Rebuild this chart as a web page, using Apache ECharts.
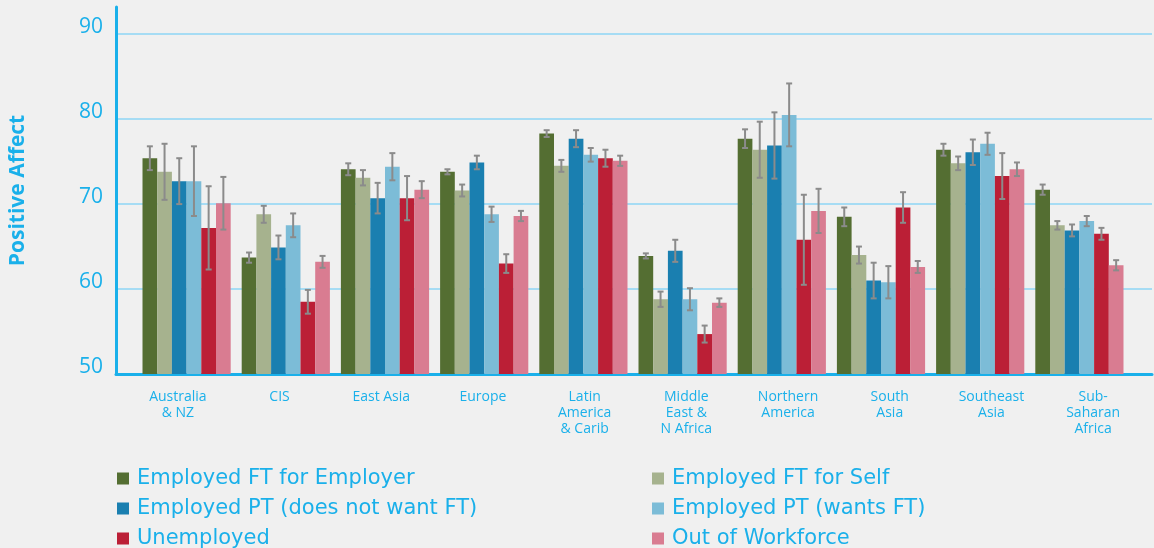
<!DOCTYPE html>
<html>
<head>
<meta charset="utf-8">
<script src="https://cdn.jsdelivr.net/npm/echarts@6/dist/echarts.min.js"></script>
<style>
  html, body { margin: 0; padding: 0; background: #f0f0f0; }
  #chart { width: 1154px; height: 548px; }
</style>
</head>
<body>
<div id="chart"></div>
<script>
// region categories (x axis)
const regions = ['Australia\n& NZ', 'CIS', 'East Asia', 'Europe', 'Latin\nAmerica\n& Carib',
  'Middle\nEast &\nN Africa', 'Northern\nAmerica', 'South\nAsia', 'Southeast\nAsia', 'Sub-\nSaharan\nAfrica']

const seriesNames = ['Employed FT for Employer', 'Employed FT for Self', 'Employed PT (does not want FT)',
  'Employed PT (wants FT)', 'Unemployed', 'Out of Workforce']

// mean positive affect
const ftEmployer = [75.4, 63.7, 74.1, 73.8, 78.3, 63.9, 77.7, 68.5, 76.4, 71.7]
const ftSelf = [73.8, 68.8, 73.1, 71.6, 74.5, 58.8, 76.4, 64.0, 74.8, 67.5]
const ptNotWant = [72.7, 64.9, 70.7, 74.9, 77.7, 64.5, 76.9, 61.0, 76.1, 66.9]
const ptWants = [72.7, 67.5, 74.4, 68.8, 75.8, 58.8, 80.5, 60.8, 77.1, 68.0]
const unemployed = [67.2, 58.5, 70.7, 63.0, 75.4, 54.7, 65.8, 69.6, 73.3, 66.5]
const outOfWork = [70.1, 63.2, 71.7, 68.6, 75.1, 58.4, 69.2, 62.6, 74.1, 62.8]

// error bar half widths
const ftEmployerErr = [1.4, 0.6, 0.7, 0.3, 0.4, 0.3, 1.1, 1.1, 0.7, 0.6]
const ftSelfErr = [3.3, 1.0, 0.9, 0.7, 0.7, 0.9, 3.3, 1.0, 0.8, 0.5]
const ptNotWantErr = [2.7, 1.4, 1.8, 0.8, 1.0, 1.3, 3.9, 2.1, 1.5, 0.7]
const ptWantsErr = [4.1, 1.4, 1.6, 0.9, 0.8, 1.3, 3.7, 1.9, 1.3, 0.6]
const unemployedErr = [4.9, 1.4, 2.6, 1.1, 1.0, 1.0, 5.3, 1.8, 2.7, 0.7]
const outOfWorkErr = [3.1, 0.7, 1.0, 0.6, 0.6, 0.5, 2.6, 0.7, 0.8, 0.6]

const yTicks = [50, 60, 70, 80, 90]

const values = [ftEmployer, ftSelf, ptNotWant, ptWants, unemployed, outOfWork]
const errors = [ftEmployerErr, ftSelfErr, ptNotWantErr, ptWantsErr, unemployedErr, outOfWorkErr]
const colors = ['#546e32', '#a6b28e', '#1a7fb0', '#7cbcd7', '#bb1f36', '#d97c91']

const cyan = '#1ab0ea'
const font = '"Open Sans", sans-serif'
const wideFont = '"DejaVu Sans", sans-serif'
const barW = 14.7
const yMax = 93.2

// error bar data: [category, series, low, high]
const errData = []
values.forEach((vals, s) => {
  vals.forEach((v, c) => {
    errData.push([c, s, v - errors[s][c], v + errors[s][c]])
  })
})

const renderErr = (params, api) => {
  const c = api.value(0)
  const s = api.value(1)
  const hi = api.coord([c, api.value(3)])
  const lo = api.coord([c, api.value(2)])
  const x = hi[0] + (s - 2.5) * barW
  const style = { stroke: '#8b8b8b', lineWidth: 2 }
  return {
    type: 'group',
    children: [
      { type: 'line', shape: { x1: x, y1: hi[1], x2: x, y2: lo[1] }, style },
      { type: 'line', shape: { x1: x - 3, y1: hi[1], x2: x + 3, y2: hi[1] }, style },
      { type: 'line', shape: { x1: x - 3, y1: lo[1], x2: x + 3, y2: lo[1] }, style }
    ]
  }
}

const legendBase = {
  orient: 'vertical', top: 463, height: 120, width: 480, icon: 'rect',
  itemWidth: 12, itemHeight: 12, itemGap: 9,
  textStyle: { color: cyan, fontSize: 21, lineHeight: 20, fontFamily: wideFont, padding: [0, 0, 0, 3] }
}

const chart = echarts.init(document.getElementById('chart'))

const option = {
  backgroundColor: '#f0f0f0',
  animation: false,
  grid: [
    // frame with axis lines and grid lines
    { left: 116, right: 2, top: 7, bottom: 174 },
    // bars
    { left: 137, right: 25, top: 7, bottom: 174 },
    // category labels
    { left: 127, right: 10, top: 7, bottom: 174 }
  ],
  xAxis: [
    {
      gridIndex: 0, type: 'value', min: 0, max: 1,
      axisLine: { show: true, onZero: false, lineStyle: { color: cyan, width: 3 } },
      axisTick: { show: false }, axisLabel: { show: false }, splitLine: { show: false }
    },
    {
      gridIndex: 1, type: 'category', data: regions,
      axisLine: { show: false }, axisTick: { show: false }, axisLabel: { show: false }
    },
    {
      gridIndex: 2, type: 'category', data: regions,
      axisLine: { show: false }, axisTick: { show: false },
      axisLabel: { interval: 0, margin: 15, color: cyan, fontSize: 14, lineHeight: 16, fontFamily: font }
    }
  ],
  yAxis: [
    {
      gridIndex: 0, type: 'value', min: 50, max: yMax, interval: 10,
      name: 'Positive Affect', nameLocation: 'middle', nameRotate: 90, nameGap: 87,
      nameTextStyle: { color: cyan, fontSize: 21, fontWeight: 'bold', fontFamily: font },
      axisLine: { show: true, onZero: false, lineStyle: { color: cyan, width: 3 } },
      axisTick: { show: false },
      axisLabel: {
        color: cyan, fontSize: 21, fontFamily: font, margin: 13,
        verticalAlign: 'bottom', lineHeight: 14,
        formatter: (v) => (yTicks.includes(v) ? String(v) : '')
      },
      splitLine: { show: true, showMaxLine: false, lineStyle: { color: '#a6dcf4', width: 2 } }
    },
    { gridIndex: 1, type: 'value', min: 50, max: yMax, show: false },
    { gridIndex: 2, type: 'value', min: 50, max: yMax, show: false }
  ],
  legend: [
    { ...legendBase, left: 112, data: [seriesNames[0], seriesNames[2], seriesNames[4]] },
    { ...legendBase, left: 647, data: [seriesNames[1], seriesNames[3], seriesNames[5]] }
  ],
  series: [
    ...values.map((vals, s) => ({
      name: seriesNames[s],
      type: 'bar',
      xAxisIndex: 1,
      yAxisIndex: 1,
      data: vals,
      barWidth: barW,
      barGap: '0%',
      itemStyle: { color: colors[s] }
    })),
    {
      name: 'errors',
      type: 'custom',
      xAxisIndex: 1,
      yAxisIndex: 1,
      data: errData,
      encode: { x: 0, y: [2, 3] },
      renderItem: renderErr,
      z: 5
    }
  ]
}

chart.setOption(option)
</script>
</body>
</html>
